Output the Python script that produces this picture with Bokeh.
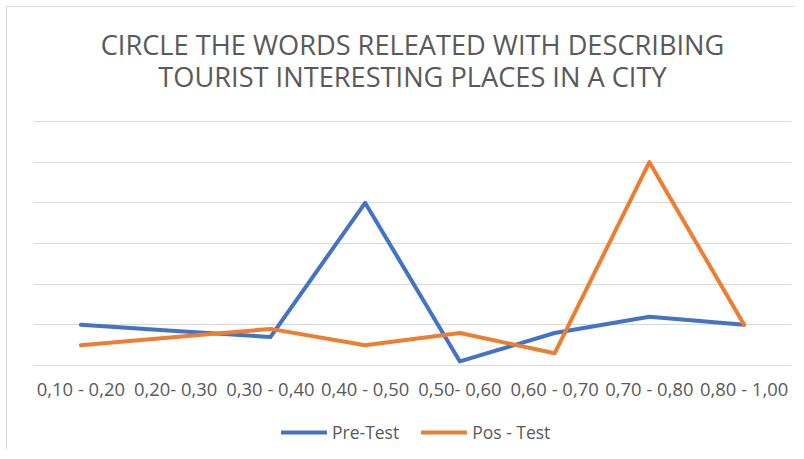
from bokeh.plotting import figure
from bokeh.models import FactorRange, Range1d, Legend, LegendItem, Label, FixedTicker, ColumnDataSource
from bokeh.core.properties import value
from bokeh.embed import file_html
from bokeh.resources import INLINE

categories = ["0,10 - 0,20", "0,20- 0,30", "0,30 - 0,40", "0,40 - 0,50",
              "0,50- 0,60", "0,60 - 0,70", "0,70 - 0,80", "0,80 - 1,00"]
pre_test = [1.0, 0.85, 0.7, 4.0, 0.1, 0.8, 1.2, 1.0]
pos_test = [0.5, 0.7, 0.9, 0.5, 0.8, 0.3, 5.0, 1.0]
grid_values = [0, 1, 2, 3, 4, 5, 6]
title_lines = ["CIRCLE THE WORDS RELEATED WITH DESCRIBING",
               "TOURIST INTERESTING PLACES IN A CITY"]

FONT = "Open Sans"
GREY = "#595959"
GRID = "#d9d9d9"

W, H = 788, 443
FRAME_TOP, FRAME_BOTTOM = 114, 358          # pixel rows of the 6 and 0 gridlines
ppu = (FRAME_BOTTOM - FRAME_TOP) / 6.0
y_top = 6 + FRAME_TOP / ppu
y_bot = -(H - FRAME_BOTTOM) / ppu

p = figure(x_range=FactorRange(*categories, range_padding=0), y_range=Range1d(y_bot, y_top),
           width=W, height=H, output_backend="svg", toolbar_location=None,
           min_border_left=26, min_border_right=4, min_border_top=0, min_border_bottom=0)
p.styles = {"border-top": "1px solid #d9d9d9", "border-left": "1px solid #d9d9d9",
            "margin-left": "6px", "margin-top": "6px"}

p.outline_line_color = None
p.background_fill_color = "white"
p.xaxis.visible = False
p.yaxis.visible = False
p.xgrid.grid_line_color = None
p.yaxis.ticker = FixedTicker(ticks=grid_values)
p.ygrid.grid_line_color = GRID
p.ygrid.grid_line_width = 1

# category labels under the baseline
src = ColumnDataSource(dict(x=categories, y=[0] * len(categories), t=categories))
p.text(x="x", y="y", text="t", source=src, y_offset=23, text_align="center",
       text_baseline="middle", text_font=value(FONT), text_font_size="18.4px", text_color=GREY)

r1 = p.line(categories, pre_test, line_color="#4472C4", line_width=4, line_join="round", line_cap="round")
r2 = p.line(categories, pos_test, line_color="#ED7D31", line_width=4, line_join="round", line_cap="round")

for line, sy in zip(title_lines, [H - 37, H - 69]):
    p.add_layout(Label(x=(W - 26 - 4) / 2, y=sy, x_units="screen", y_units="screen", text=line,
                       text_align="center", text_baseline="middle", text_font=FONT,
                       text_font_size="27.2px", text_color=GREY))

legend = Legend(items=[LegendItem(label="Pre-Test", renderers=[r1]),
                       LegendItem(label="Pos - Test", renderers=[r2])],
                orientation="horizontal", location=(248, 6),
                label_text_font=FONT, label_text_font_size="17.5px", label_text_color=GREY,
                glyph_width=46, label_standoff=5, spacing=22, padding=0, margin=0,
                border_line_color=None, background_fill_alpha=0)
p.add_layout(legend, "center")

open("out.html", "w").write(file_html(p, INLINE))
